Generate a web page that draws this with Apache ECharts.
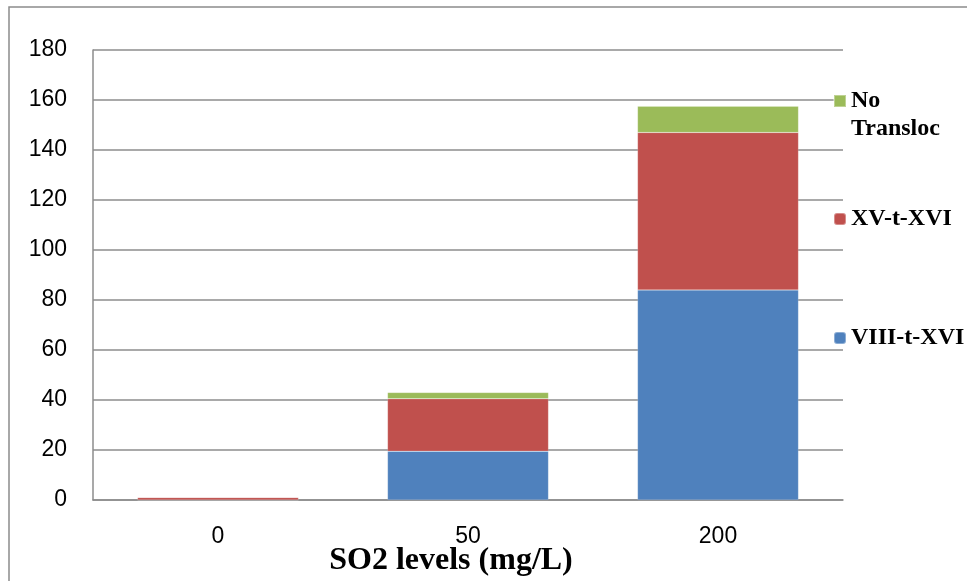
<!DOCTYPE html>
<html>
<head>
<meta charset="utf-8">
<script src="https://cdn.jsdelivr.net/npm/echarts@6/dist/echarts.min.js"></script>
<style>
  html, body { margin: 0; padding: 0; background: #fff; }
  #chart { width: 967px; height: 581px; }
</style>
</head>
<body>
<div id="chart"></div>
<script>
// SO2 dose groups and translocation counts per group
const categories = ['0', '50', '200'];
const viiiTXvi = [0, 19.5, 84];
const xvTXvi = [1, 21, 63];
const noTransloc = [0, 2.5, 10.5];

const yTicks = { min: 0, max: 180, interval: 20 };

const COLORS = { blue: '#4f81bd', red: '#c0504d', green: '#9bbb59' };
const AXIS_GRAY = '#8c8c8c';
const SERIF = '"Liberation Serif", "Times New Roman", serif';
const SANS = '"Liberation Sans", Arial, sans-serif';
const LEGEND_LINE = 28;

const chart = echarts.init(document.getElementById('chart'));

const legendText = {
  fontFamily: SERIF,
  fontWeight: 'bold',
  fontSize: 24,
  color: '#000',
  lineHeight: LEGEND_LINE
};

// Two-line entry: a 12px square sitting level with the first line of text.
// The icon box is as tall as the text block; the outer moveTo points keep its full height.
const twoLineIcon = 'path://M0,0M0,8h12v12h-12zM12,56';

function legendAt(name, top, opts) {
  opts = opts || {};
  return {
    data: [opts.icon ? { name: name, icon: opts.icon } : name],
    orient: 'vertical',
    left: 833,
    top: top,
    itemWidth: 12,
    itemHeight: opts.itemHeight || 12,
    itemGap: 0,
    padding: 0,
    selectedMode: false,
    formatter: n => (n === 'No Transloc' ? 'No\nTransloc' : n),
    textStyle: legendText
  };
}

function barSeries(name, data, color) {
  return {
    name: name,
    type: 'bar',
    stack: 'total',
    data: data,
    barWidth: '64.4%',
    itemStyle: { color: color, borderColor: 'rgba(255,255,255,0.35)', borderWidth: 0.5 },
    emphasis: { disabled: true }
  };
}

chart.setOption({
  animation: false,
  backgroundColor: '#fff',
  grid: { left: 93, right: 124, top: 50, bottom: 81, containLabel: false },
  legend: [
    legendAt('No Transloc', 86, { icon: twoLineIcon, itemHeight: 2 * LEGEND_LINE }),
    legendAt('XV-t-XVI', 205),
    legendAt('VIII-t-XVI', 324)
  ],
  xAxis: {
    type: 'category',
    data: categories,
    axisLine: { show: true, lineStyle: { color: AXIS_GRAY, width: 1.5 } },
    axisTick: { show: false },
    axisLabel: { color: '#000', fontFamily: SANS, fontSize: 23, margin: 25 }
  },
  yAxis: {
    type: 'value',
    min: yTicks.min,
    max: yTicks.max,
    interval: yTicks.interval,
    axisLine: { show: true, lineStyle: { color: AXIS_GRAY, width: 1.5 } },
    axisTick: { show: false },
    axisLabel: { color: '#000', fontFamily: SANS, fontSize: 23, margin: 26 },
    splitLine: { show: true, lineStyle: { color: AXIS_GRAY, width: 1.5 } }
  },
  series: [
    barSeries('VIII-t-XVI', viiiTXvi, COLORS.blue),
    barSeries('XV-t-XVI', xvTXvi, COLORS.red),
    barSeries('No Transloc', noTransloc, COLORS.green)
  ],
  graphic: [
    {
      type: 'rect',
      shape: { x: 9, y: 7, width: 1000, height: 620 },
      style: { fill: 'none', stroke: AXIS_GRAY, lineWidth: 1.5 },
      silent: true
    },
    {
      type: 'text',
      x: 451,
      y: 561,
      style: {
        text: 'SO2 levels (mg/L)',
        font: 'bold 32px ' + SERIF,
        fill: '#000',
        align: 'center',
        verticalAlign: 'middle'
      },
      silent: true
    }
  ]
});
</script>
</body>
</html>
